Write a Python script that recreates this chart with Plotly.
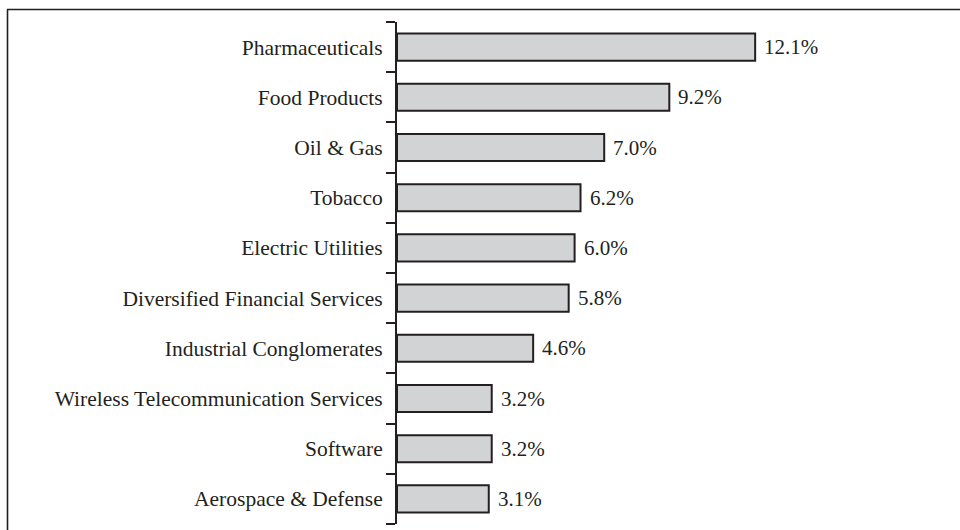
import plotly.graph_objects as go

# Top ten industries by share of net assets
industries = [
    "Pharmaceuticals",
    "Food Products",
    "Oil & Gas",
    "Tobacco",
    "Electric Utilities",
    "Diversified Financial Services",
    "Industrial Conglomerates",
    "Wireless Telecommunication Services",
    "Software",
    "Aerospace & Defense",
]
weights = [12.1, 9.2, 7.0, 6.2, 6.0, 5.8, 4.6, 3.2, 3.2, 3.1]

INK = "#231f20"
FONT = "Liberation Serif"
FS_CAT = 21.5
FS_VAL = 21

W, H = 960, 530
ML, MR, MT, MB = 397, 10, 22, 6
PW, PH = W - ML - MR, H - MT - MB

fig = go.Figure(
    go.Bar(
        x=weights,
        y=industries,
        orientation="h",
        width=0.54,
        marker=dict(color="#d2d3d5", line=dict(color=INK, width=2)),
        hoverinfo="skip",
    )
)

# value labels at the end of each bar
for name, v in zip(industries, weights):
    fig.add_annotation(
        x=v, y=name, text=f"{v:.1f}%", showarrow=False,
        xanchor="left", xshift=7, yshift=0,
        font=dict(family=FONT, size=FS_VAL, color=INK),
    )

# frame lines along the top and left edge of the page
def px_x(p):
    return (p - ML) / PW

def px_y(p):
    return 1 - (p - MT) / PH

fig.add_shape(type="line", xref="paper", yref="paper",
              x0=px_x(7), x1=px_x(965), y0=px_y(9.5), y1=px_y(9.5),
              line=dict(color=INK, width=1.6))
fig.add_shape(type="line", xref="paper", yref="paper",
              x0=px_x(7.5), x1=px_x(7.5), y0=px_y(9.5), y1=px_y(535),
              line=dict(color=INK, width=1.6))

fig.update_layout(
    width=W, height=H,
    margin=dict(l=ML, r=MR, t=MT, b=MB),
    paper_bgcolor="white", plot_bgcolor="white",
    showlegend=False,
    font=dict(family=FONT, size=FS_CAT, color=INK),
    xaxis=dict(range=[0, PW / 29.6], visible=False, fixedrange=True),
    yaxis=dict(
        categoryorder="array", categoryarray=industries[::-1],
        range=[-0.5, 9.5],
        showline=True, linecolor=INK, linewidth=2,
        ticks="outside", tickson="boundaries", ticklen=9, tickwidth=1.5,
        tickcolor=INK, showgrid=False, zeroline=False,
        ticklabelstandoff=8,
        tickfont=dict(family=FONT, size=FS_CAT, color=INK),
    ),
)

fig.write_html("out.html")
